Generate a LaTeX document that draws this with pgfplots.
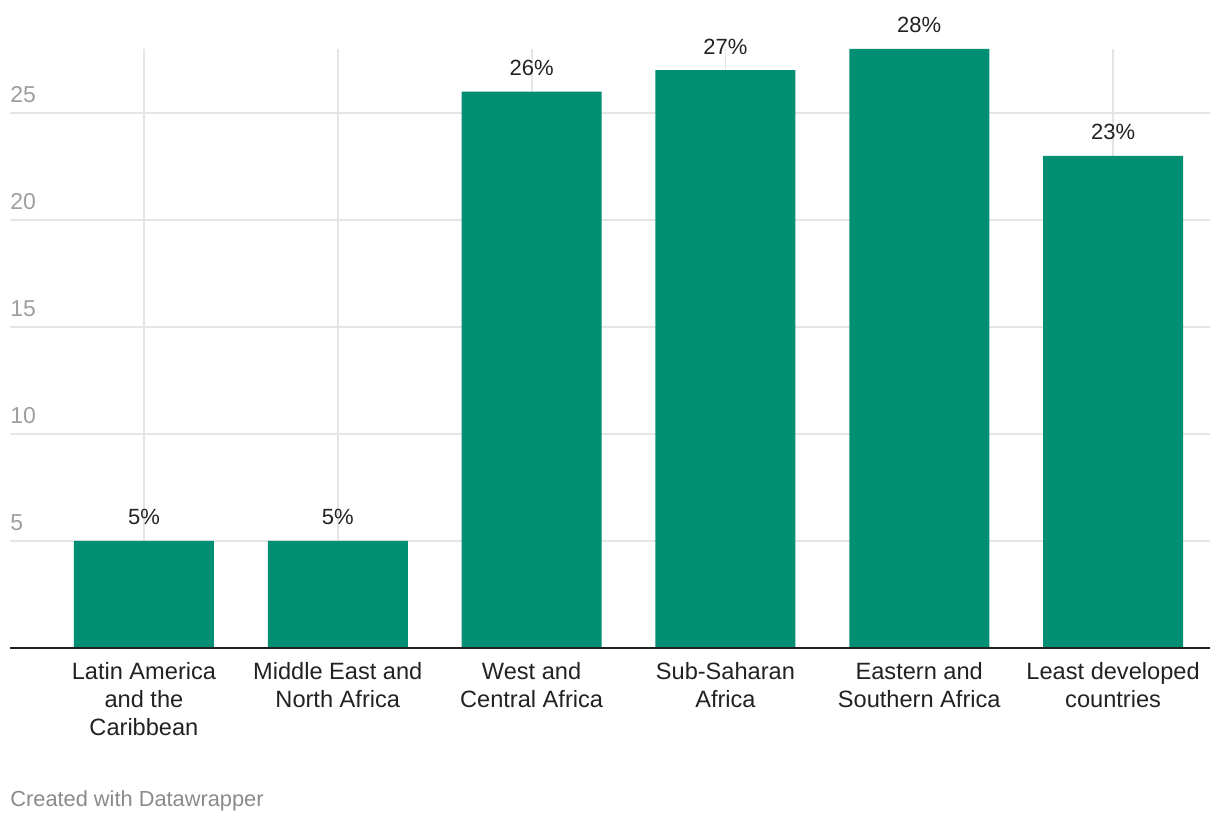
\documentclass[border=0pt]{standalone}
\usepackage{pgfplots}
\pgfplotsset{compat=1.18}
\usepackage{fontspec}
\setmainfont{Liberation Sans}
\definecolor{barcol}{HTML}{008F73}
\definecolor{gridcol}{HTML}{E5E5E5}
\definecolor{txt}{HTML}{222222}
\definecolor{ticktxt}{HTML}{9E9E9E}
\definecolor{credit}{HTML}{8A8A8A}
\begin{document}
\begin{tikzpicture}
\useasboundingbox (0,0) rectangle (610pt,412pt);
\begin{axis}[
  at={(5pt,88pt)}, anchor=south west,
  scale only axis,
  width=600pt, height=299.6pt,
  xmin=-0.691, xmax=5.5,
  ymin=0, ymax=28,
  xtick={0,1,2,3,4,5},
  xticklabels={{Latin America\\and the\\Caribbean},{Middle East and\\North Africa},{West and\\Central Africa},{Sub-Saharan\\Africa},{Eastern and\\Southern Africa},{Least developed\\countries}},
  ytick={5,10,15,20,25},
  major tick length=0pt,
  axis line style={draw=none},
  xmajorgrids, ymajorgrids,
  grid style={gridcol, line width=0.9pt},
  xticklabel style={font=\fontsize{11.8}{14}\selectfont, text=txt, align=center, anchor=north, inner sep=0pt, yshift=-7.2pt},
  yticklabel style={font=\fontsize{11.5}{13}\selectfont, text=ticktxt, anchor=base west, inner sep=0pt, yshift=5pt},
  /pgf/number format/assume math mode=true,
  ybar, bar width=70pt,
  nodes near coords={\pgfmathprintnumber{\pgfplotspointmeta}\%},
  nodes near coords style={font=\fontsize{11}{13}\selectfont, text=txt, anchor=base, inner sep=0pt, yshift=8pt},
  clip=false,
]
\addplot[fill=barcol, draw=none] coordinates {(0,5) (1,5) (2,26) (3,27) (4,28) (5,23)};
\draw[txt, line width=1.1pt] (axis cs:-0.691,0) -- (axis cs:5.5,0);
\end{axis}
\node[anchor=base west, inner sep=0pt, font=\fontsize{10.9}{12}\selectfont, text=credit] at (5pt,8.65pt) {Created with Datawrapper};
\end{tikzpicture}
\end{document}
